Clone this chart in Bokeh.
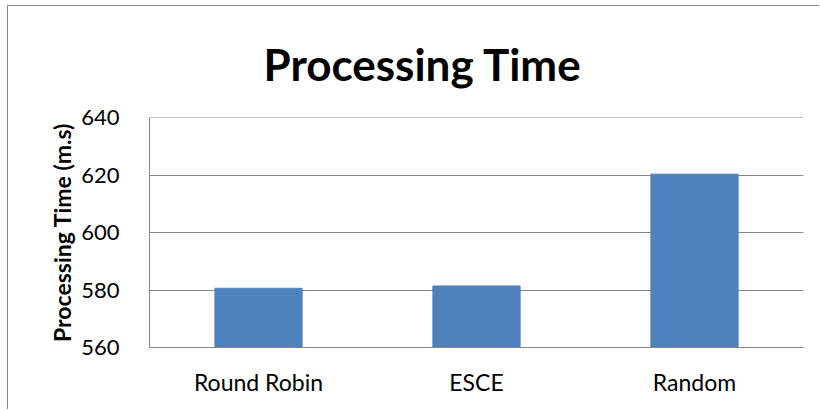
from bokeh.plotting import figure
from bokeh.models import Range1d, FactorRange, Title, SingleIntervalTicker, Span
from bokeh.embed import file_html
from bokeh.resources import INLINE

categories = ["Round Robin", "ESCE", "Random"]
times = [580.6, 581.4, 620.3]
y_start, y_end, y_step = 560, 640, 20

FONT = "Lato"
GRID = "#868686"

p = figure(x_range=FactorRange(*categories, range_padding=0),
           y_range=Range1d(y_start, y_end),
           width=812, height=404, output_backend="svg", toolbar_location=None,
           min_border_left=141, min_border_right=17, min_border_top=111,
           min_border_bottom=63)
p.title = None
t = Title(text="Processing Time", align="left", offset=114, text_font=FONT,
          text_font_size="44px", text_font_style="bold", text_color="#000000",
          standoff=56)
p.add_layout(t, "above")

p.vbar(x=categories, top=times, bottom=y_start, width=0.4,
       fill_color="#4F81BD", line_color="#4F81BD")

p.add_layout(Span(location=y_end, dimension="width", line_color=GRID, line_width=1))

p.outline_line_color = None
p.xgrid.grid_line_color = None
p.ygrid.grid_line_color = GRID
p.ygrid.grid_line_width = 1

p.yaxis.ticker = SingleIntervalTicker(interval=y_step)
p.yaxis.axis_label = "Processing Time (m.s)"
p.yaxis.axis_label_text_font = FONT
p.yaxis.axis_label_text_font_size = "23px"
p.yaxis.axis_label_text_font_style = "bold"
p.yaxis.axis_label_text_color = "#000000"
p.yaxis.axis_label_standoff = 2
p.yaxis.major_label_text_font = FONT
p.yaxis.major_label_text_font_size = "22px"
p.yaxis.major_label_text_color = "#000000"
p.yaxis.major_label_standoff = 24
p.yaxis.major_tick_line_color = None
p.yaxis.minor_tick_line_color = None
p.yaxis.axis_line_color = GRID

p.xaxis.major_label_text_font = FONT
p.xaxis.major_label_text_font_size = "23px"
p.xaxis.major_label_text_color = "#000000"
p.xaxis.major_label_standoff = 14
p.xaxis.major_tick_line_color = None
p.xaxis.axis_line_color = GRID

p.styles = {"margin-left": "7px", "margin-top": "5px",
            "border-left": "1px solid #888888", "border-top": "1px solid #888888"}

open("out.html", "w").write(file_html(p, INLINE))
